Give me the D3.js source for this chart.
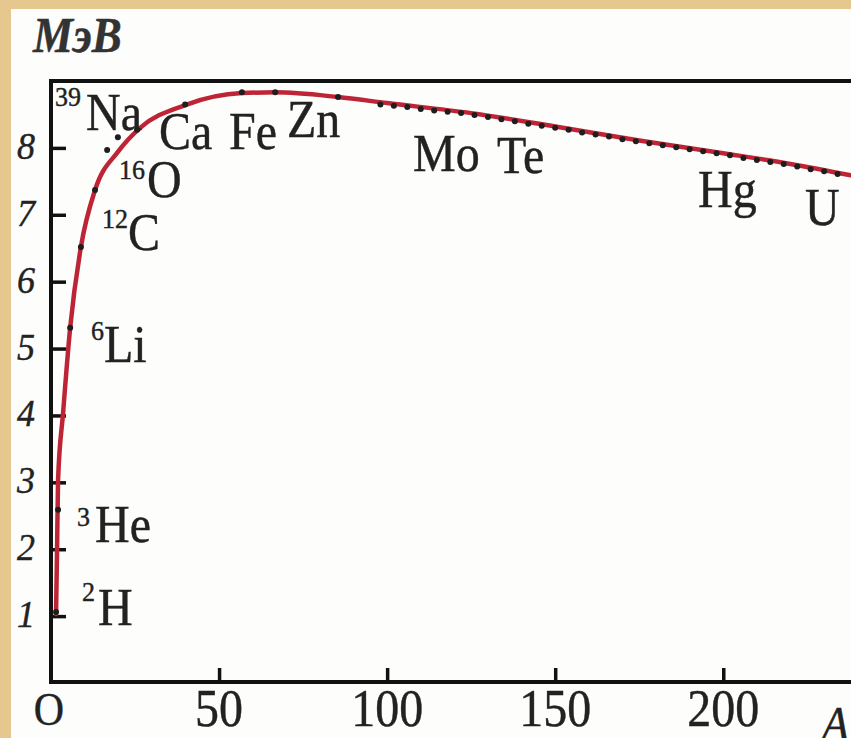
<!DOCTYPE html>
<html>
<head>
<meta charset="utf-8">
<script src="https://cdn.jsdelivr.net/npm/d3@7"></script>
<style>
  html, body { margin: 0; padding: 0; background: #fff; }
  svg { display: block; }
</style>
</head>
<body>
<svg id="chart" width="851" height="738"></svg>
<script>
// ---------------- DATA ----------------
// smooth curve: mass number A vs binding energy per nucleon (MeV)
const curveA = [1.5, 1.8, 2.1, 3.6, 5.7, 8.9, 13.1, 19.9, 26.5, 39.9, 56.8, 66.7, 85.4, 100, 125, 150, 175, 200, 220, 238];
const curveE = [1.03, 1.99, 3.03, 4.04, 5.31, 6.52, 7.37, 7.94, 8.30, 8.64, 8.82, 8.83, 8.76, 8.67, 8.52, 8.32, 8.11, 7.92, 7.76, 7.59];

// measured nuclei (black dots)
const dotA = [1.5, 2.1, 5.7, 8.9, 13.1, 16.7, 19.9, 25.6, 39.9, 56.8, 66.7, 85.4,
  98, 102, 106, 110, 114, 118, 122, 126, 130, 134, 138, 142, 146, 150, 154, 158, 162, 166,
  170, 174, 178, 182, 186, 190, 194, 198, 202, 206, 210, 214, 218, 222, 226, 230, 234];
const dotE = [1.06, 2.59, 5.31, 6.52, 7.37, 7.97, 8.16, 8.27, 8.65, 8.83, 8.83, 8.76,
  8.65, 8.63, 8.61, 8.58, 8.56, 8.54, 8.52, 8.49, 8.46, 8.43, 8.40, 8.36, 8.33, 8.30, 8.27, 8.23, 8.20, 8.17,
  8.13, 8.10, 8.07, 8.04, 8.01, 7.98, 7.95, 7.92, 7.89, 7.85, 7.82, 7.79, 7.76, 7.72, 7.68, 7.65, 7.61];

const xTicks = [50, 100, 150, 200];
const xTickLabels = ["50", "100", "150", "200"];
const yTicks = [1, 2, 3, 4, 5, 6, 7, 8];
const yTickLabels = ["1", "2", "3", "4", "5", "6", "7", "8"];

const labelSup = ["39", "16", "12", "6", "3", "2"];
const labelSym = ["Na", "O", "C", "Li", "He", "H"];
const plainLabels = ["Ca", "Fe", "Zn", "Mo", "Te", "Hg", "U"];

// ---------------- LAYOUT ----------------
const svg = d3.select("#chart");
const W = 851, H = 738;
const mLeft = 51, mRight = 851, mTop = 81, mBottom = 682;
const serif = "'Liberation Serif', 'DejaVu Serif', 'Times New Roman', serif";
const ink = "#222";

// background frame (tan paper edge) and white sheet
svg.append("rect").attr("width", W).attr("height", H).attr("fill", "#e6c88e");
svg.append("rect").attr("x", 11).attr("y", 9).attr("width", W - 11).attr("height", H - 9).attr("fill", "#fdfdfb");

const x = d3.scaleLinear().domain([0, 238]).range([mLeft, mRight]);
const y = d3.scaleLinear().domain([0, 9]).range([mBottom + 1, mTop]);

// axes frame
const frame = svg.append("g").attr("stroke", "#111").attr("stroke-width", 4).attr("fill", "none");
frame.append("line").attr("x1", mLeft).attr("x2", mLeft).attr("y1", mTop - 2).attr("y2", mBottom + 2);
frame.append("line").attr("x1", mLeft - 2).attr("x2", mRight).attr("y1", mBottom).attr("y2", mBottom);
frame.append("line").attr("x1", mLeft - 2).attr("x2", mRight).attr("y1", mTop).attr("y2", mTop);

// y axis ticks (inward)
const yAxis = d3.axisRight(y).tickValues(yTicks).tickSize(15).tickFormat("");
const gy = svg.append("g").attr("transform", `translate(${mLeft},0)`).call(yAxis);
gy.select(".domain").remove();
gy.selectAll(".tick line").attr("stroke", "#111").attr("stroke-width", 3.5);

// x axis ticks (inward / upward)
const xAxis = d3.axisTop(x).tickValues(xTicks).tickSize(14).tickFormat("");
const gx = svg.append("g").attr("transform", `translate(0,${mBottom})`).call(xAxis);
gx.select(".domain").remove();
gx.selectAll(".tick line").attr("stroke", "#111").attr("stroke-width", 3.5);

// stretched text helper
function txt(px, py, s, size, opts = {}) {
  return svg.append("text")
    .attr("transform", `translate(${px},${py}) scale(1,${opts.sy || 1.1})`)
    .attr("font-family", serif)
    .attr("font-size", size)
    .attr("fill", opts.fill || ink)
    .attr("stroke", opts.fill || ink)
    .attr("stroke-width", 0.4)
    .attr("text-anchor", opts.anchor || "start")
    .attr("font-style", opts.italic ? "italic" : "normal")
    .attr("font-weight", opts.bold ? "bold" : "normal")
    .text(s);
}

// y tick labels (italic)
yTicks.forEach((v, i) => txt(35, y(v) + 11, yTickLabels[i], 36, { italic: true, anchor: "end", sy: 1.05 }));
// x tick labels
xTicks.forEach((v, i) => txt(x(v), 726, xTickLabels[i], 48, { anchor: "middle", sy: 1.12 }));
txt(49, 725, "O", 42, { anchor: "middle", sy: 1.12 });

// axis titles
txt(33, 52, "МэВ", 45, { italic: true, bold: true, sy: 1.12, fill: "#333" });
txt(822, 740, "A", 44, { italic: true, sy: 1.1 });

// curve
const line = d3.line()
  .x((d, i) => x(curveA[i]))
  .y((d, i) => y(curveE[i]))
  .curve(d3.curveMonotoneX);
svg.append("path")
  .datum(curveA)
  .attr("d", line)
  .attr("fill", "none")
  .attr("stroke", "#bd2536")
  .attr("stroke-width", 4.5)
  .attr("stroke-linecap", "round")
  .attr("stroke-linejoin", "round");

// dots
svg.append("g").selectAll("circle")
  .data(dotA)
  .join("circle")
  .attr("cx", (d) => x(d))
  .attr("cy", (d, i) => y(dotE[i]))
  .attr("r", 3)
  .attr("fill", "#1e1e1e");

// isotope labels with superscripts: [supX, supY, symX, symY]
const isoPos = [
  [55, 106, 86, 130],
  [119, 179, 147, 197],
  [102, 228, 128, 250],
  [91, 340, 104, 362],
  [77, 526, 95, 542],
  [82, 601, 98, 625]
];
labelSym.forEach((s, i) => {
  const p = isoPos[i];
  txt(p[0], p[1], labelSup[i], 26, { sy: 1.05 });
  txt(p[2], p[3], s, 48, { sy: 1.1 });
});

// element labels
const plainPos = [[159, 149], [229, 149], [287, 137], [413, 171], [497, 173], [698, 207], [805, 225]];
plainLabels.forEach((s, i) => txt(plainPos[i][0], plainPos[i][1], s, 48, { sy: 1.1 }));
</script>
</body>
</html>
